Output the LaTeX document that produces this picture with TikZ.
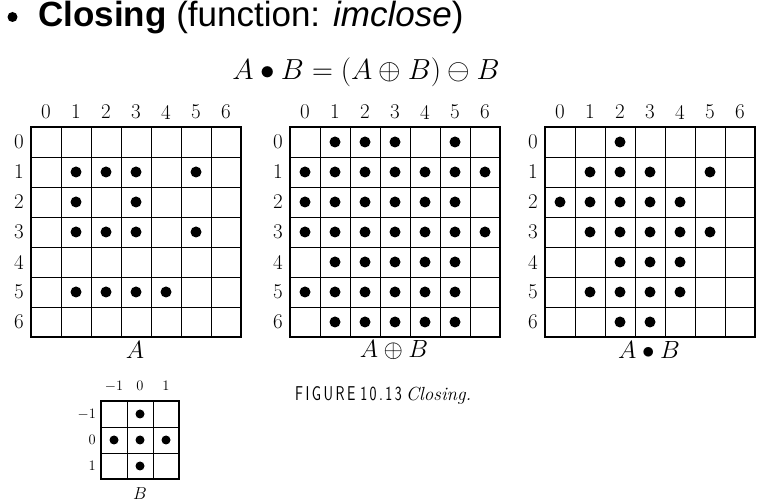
\documentclass[tikz,border=0pt]{standalone}
\usepackage{fontspec}
\usepackage{graphicx}
\newfontfamily\slidefont{Liberation Sans}
\tikzset{
  pix/.style={x=1pt,y=-1pt},
  num/.style={font=\fontsize{21}{21}\selectfont,inner sep=0pt},
  smallnum/.style={font=\fontsize{14.5}{14.5}\selectfont,inner sep=0pt},
  thinline/.style={line width=0.9pt},
  frame/.style={line width=1.8pt},
  dot/.style={fill=black},
}
% one 7x7 board: left, top, name
\newcommand\drawboard[3]{%
  \foreach \i in {0,...,6}{
    \node[num] (#3c\i) at ({#1+(\i+0.5)*30},112) {\i};
    \node[num] (#3r\i) at ({#1-12},{#2+(\i+0.5)*30}) {\i};
  }
  \foreach \i in {1,...,6}{
    \draw[thinline] ({#1+\i*30},#2) -- ++(0,210);
    \draw[thinline] (#1,{#2+\i*30}) -- ++(210,0);
  }
  \draw[frame] (#1,#2) rectangle ++(210,210);
}
\newcommand\boarddots[3]{%
  \foreach \c/\r in {#3}
    \fill[dot] ({#1+(\c+0.5)*30},{#2+(\r+0.5)*30}) circle (5.5pt);
}

\begin{document}
\begin{tikzpicture}[pix]
\useasboundingbox (0,0) rectangle (766,502);

% heading
\fill[dot] (12.5,17) circle (5pt) coordinate (bullet);
\node[font=\slidefont\fontsize{35}{35}\selectfont,anchor=base west,inner sep=0pt] (title) at (38,27)
  {\textbf{Closing} (function: \textit{imclose})};
\node[font=\fontsize{24.88}{25}\selectfont,anchor=base,inner sep=0pt] (formula) at (366,80)
  {\scalebox{1.165}{$A \bullet B = (A \oplus B) \ominus B$}};

% A
\drawboard{31}{127}{a}
\boarddots{31}{127}{1/1,2/1,3/1,5/1, 1/2,3/2, 1/3,2/3,3/3,5/3, 1/5,2/5,3/5,4/5}
\node[num,font=\fontsize{24.88}{25}\selectfont] (alabel) at (135,350) {$A$};

% A dilated by B
\drawboard{290}{127}{d}
\boarddots{290}{127}{1/0,2/0,3/0,5/0,
  0/1,1/1,2/1,3/1,4/1,5/1,6/1,
  0/2,1/2,2/2,3/2,4/2,5/2,
  0/3,1/3,2/3,3/3,4/3,5/3,6/3,
  1/4,2/4,3/4,4/4,5/4,
  0/5,1/5,2/5,3/5,4/5,5/5,
  1/6,2/6,3/6,4/6,5/6}
\node[num,font=\fontsize{24.88}{25}\selectfont] (dlabel) at (394,350) {$A \oplus B$};

% closing
\drawboard{545}{127}{c}
\boarddots{545}{127}{2/0,
  1/1,2/1,3/1,5/1,
  0/2,1/2,2/2,3/2,4/2,
  1/3,2/3,3/3,4/3,5/3,
  2/4,3/4,4/4,
  1/5,2/5,3/5,4/5,
  2/6,3/6}
\node[num,font=\fontsize{24.88}{25}\selectfont] (clabel) at (649,350) {$A \bullet B$};

% structuring element B
\foreach \i/\t in {0/$-1$,1/0,2/1}{
  \node[smallnum] (bc\i) at ({101+(\i+0.5)*26},386) {\t};
  \node[smallnum,anchor=east] (br\i) at (96,{401+(\i+0.5)*26}) {\t};
}
\foreach \i in {1,2}{
  \draw[thinline] ({101+\i*26},401) -- ++(0,78);
  \draw[thinline] (101,{401+\i*26}) -- ++(78,0);
}
\draw[frame] (101,401) rectangle ++(78,78);
\foreach \c/\r in {1/0,0/1,1/1,2/1,1/2}
  \fill[dot] ({101+(\c+0.5)*26},{401+(\r+0.5)*26}) circle (4.5pt);
\node[smallnum,font=\fontsize{17.28}{18}\selectfont] (blabel) at (140,494) {$B$};

% caption
\node[anchor=base west,inner sep=0pt] (caption) at (295,401)
  {\scalebox{0.74}[1]{\sffamily\fontsize{20}{20}\selectfont F\,I\,G\,U\,R\,E\,\,1\,0\,.\,1\,3}\hspace{4pt}{\fontsize{19}{19}\selectfont\itshape Closing.}};
\end{tikzpicture}
\end{document}
